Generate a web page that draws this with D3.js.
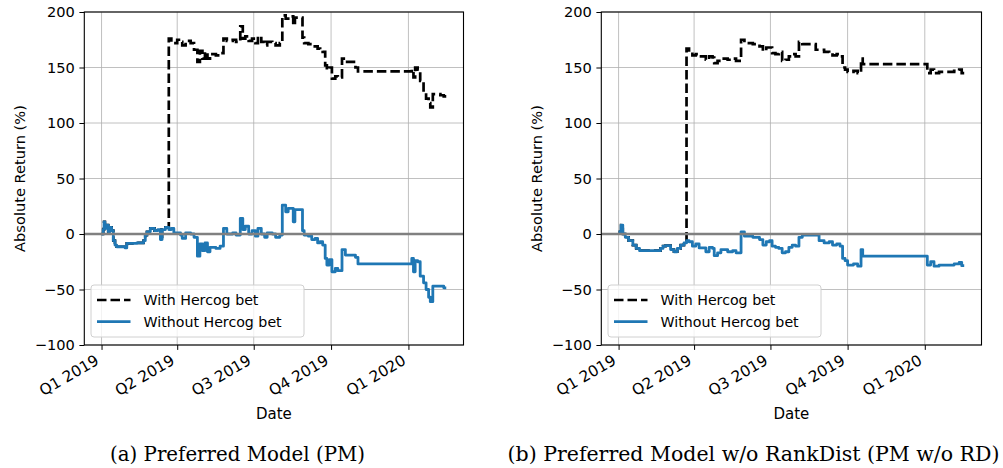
<!DOCTYPE html>
<html><head><meta charset="utf-8">
<script src="https://cdn.jsdelivr.net/npm/d3@7"></script>
<style>
body{margin:0;background:#fff}
svg{display:block}
text{font-family:"DejaVu Sans",sans-serif;fill:#000}
</style>
</head><body>
<svg id="c" width="1003" height="468"></svg>
<script>
// ---- data ----
const quarterTicks = ["2019-01-01","2019-04-01","2019-07-01","2019-10-01","2020-01-01"];
const quarterLabels = ["Q1 2019","Q2 2019","Q3 2019","Q4 2019","Q1 2020"];
const yTicks = [-100,-50,0,50,100,150,200];
const seriesNames = ["With Hercog bet","Without Hercog bet"];
const captions = ["(a) Preferred Model (PM)","(b) Preferred Model w/o RankDist (PM w/o RD)"];
const startDate = "2019-01-01"; // day 0 of the day-offset arrays

// Panel (a): days since start, absolute return (%)
const pmDays = [0,2,3,4,6,8,10,12,14,16,18,28,30,42,50,52,54,58,63,67,70,72,76,80,83,86,90,94,96,100,106,110,114,117,120,123,126,129,136,141,145,149,156,160,165,168,171,175,179,183,186,190,194,197,203,207,212,215,219,222,228,230,239,241,246,250,254,257,260,263,266,268,271,274,278,281,286,290,302,305,369,371,373,376,379,383,386,389,391,394,403,407,410];
const pmWithout = [0,4,11,5,8,2,6,3,-6,-10,-11.5,-12.5,-8.5,-8,-6,-1,2,5,3,4,-5,4,6,4,5,1,1,-1,-4,1,0,-3,-20,-9,-15,-8,-16,-12,-13,-11,5,0,1,-1,14,4,7,0,3,-2,5,0,-3,1,0,-3,-1,26,20,23,11,22,3,-1,-2,-5,-4,-8,-7,-10,-22,-28,-23,-34,-31,-33,-14,-19,-21,-27,-22,-34,-24,-25,-38,-44,-50,-57,-61,-47,-47,-48.5,-48.5];
const pmWith = [0,4,11,5,8,2,6,3,-6,-10,-11.5,-12.5,-8.5,-8,-6,-1,2,5,3,4,-5,4,6,176,173,172,175,173,170,174,172,166,155,165,158,164,158,162,161,163,176,174,175,173,187,176,178,174,176,172,178,173,170,173,172,170,172,197,194,196,188,195,177,172,171,169,169,167,166,164,152,148,150,140,142,141,158,155,150,146.5,148,141,150,148,138,127,122,118,114,126,125,124,124];

// Panel (b)
const rdDays = [0,3,5,8,12,17,21,25,50,53,56,62,66,70,74,78,81,84,88,92,96,104,108,112,114,118,122,130,136,140,146,150,160,168,172,176,180,183,187,191,195,199,203,207,211,215,219,235,239,245,251,255,260,264,267,270,273,280,285,289,291,368,372,376,382,395,400,406,409,412];
const rdWithout = [2,8,0,-3,-6,-10,-13,-15,-13,-11,-10.5,-14,-16,-13,-10,-8,-6,-7,-11,-9,-12.5,-16,-12,-13,-19.5,-17,-14,-16,-15,-17,2,-2,-3,-5,-10,-7,-6,-11,-12,-13,-17,-16,-12,-10,-11,-3,-1,-1,-6,-8,-7,-10,-9,-11,-22,-24,-28,-27,-29,-14,-20,-28,-25,-29,-28,-28,-27,-25.5,-28.5,-28.5];
const rdWith = [2,8,0,-3,-6,-10,-13,-15,-13,-11,-10.5,-14,-16,-13,-10,-8,167,164,161,162,160,157,160,159,154,156,158,157,158,156,175,172,171,169,165,168,168,163,162,164,156,157,160,162,160,173,171,166,166,164,163,161,162,160,150,148,146,147,145,158,153,145,148,145,146,146,147,148,145,145];

// ---- drawing ----
const svg = d3.select("#c");
const base = new Date(startDate + "T00:00:00Z").getTime();
const toDate = d => new Date(base + d * 864e5);
const Y0 = 12, Y1 = 345;

function panel(cfg, idx) {
  const days = cfg.days;
  const dmin = d3.min(days), dmax = d3.max(days), pad = (dmax - dmin) * 0.05;
  const x = d3.scaleUtc().domain([toDate(dmin - pad), toDate(dmax + pad)]).range([cfg.x0, cfg.x1]);
  const y = d3.scaleLinear().domain([-100, 200]).range([Y1, Y0]);
  const g = svg.append("g");
  const clipId = "clip" + idx;
  svg.append("clipPath").attr("id", clipId).append("rect")
    .attr("x", cfg.x0).attr("y", Y0).attr("width", cfg.x1 - cfg.x0).attr("height", Y1 - Y0);

  const qDates = quarterTicks.map(s => new Date(s + "T00:00:00Z"));
  // grid
  g.append("g").selectAll("line").data(qDates).join("line")
    .attr("x1", d => x(d)).attr("x2", d => x(d)).attr("y1", Y0).attr("y2", Y1)
    .attr("stroke", "#b0b0b0").attr("stroke-width", 0.8);
  g.append("g").selectAll("line").data(yTicks).join("line")
    .attr("x1", cfg.x0).attr("x2", cfg.x1).attr("y1", d => y(d)).attr("y2", d => y(d))
    .attr("stroke", "#b0b0b0").attr("stroke-width", 0.8);

  const line = vals => d3.line().curve(d3.curveStepAfter)
    .x((d, i) => x(toDate(days[i]))).y(d => y(d))(vals);
  const lg = g.append("g").attr("clip-path", `url(#${clipId})`);
  lg.append("path").attr("d", line(cfg.withB)).attr("fill", "none")
    .attr("stroke", "#000").attr("stroke-width", 2.7).attr("stroke-dasharray", "9.5,4")
    .attr("stroke-linejoin", "miter");
  lg.append("path").attr("d", line(cfg.without)).attr("fill", "none")
    .attr("stroke", "#1f77b4").attr("stroke-width", 2.8).attr("stroke-linejoin", "round");
  // zero line
  g.append("line").attr("x1", cfg.x0).attr("x2", cfg.x1).attr("y1", y(0)).attr("y2", y(0))
    .attr("stroke", "#808080").attr("stroke-width", 2.4);

  // axes
  const ax = d3.axisBottom(x).tickValues(qDates).tickFormat((d, i) => quarterLabels[i]).tickSizeOuter(0).tickSize(4.9).tickPadding(4);
  const gx = g.append("g").attr("transform", `translate(0,${Y1})`).call(ax);
  gx.select(".domain").remove();
  gx.selectAll("text").attr("font-size", 15.3).attr("font-family", "DejaVu Sans")
    .attr("text-anchor", "end").attr("dy", null).attr("y", null)
    .attr("transform", "translate(-2,18.5) rotate(-30)");
  const ay = d3.axisLeft(y).tickValues(yTicks).tickFormat(d => d < 0 ? "\u2212" + Math.abs(d) : d).tickSize(4.9).tickPadding(4.5);
  const gy = g.append("g").attr("transform", `translate(${cfg.x0},0)`).call(ay);
  gy.select(".domain").remove();
  gy.selectAll("text").attr("font-size", 14.6).attr("font-family", "DejaVu Sans");
  g.selectAll(".tick line").attr("stroke", "#000").attr("stroke-width", 1);

  g.append("rect").attr("x", cfg.x0).attr("y", Y0).attr("width", cfg.x1 - cfg.x0).attr("height", Y1 - Y0)
    .attr("fill", "none").attr("stroke", "#000").attr("stroke-width", 1.1);

  g.append("text").attr("x", (cfg.x0 + cfg.x1) / 2).attr("y", 418.5).attr("text-anchor", "middle")
    .attr("font-size", 15).text("Date");
  g.append("text").attr("transform", `translate(${cfg.x0 - 59},${(Y0 + Y1) / 2}) rotate(-90)`)
    .attr("text-anchor", "middle").attr("font-size", 14.6).text("Absolute Return (%)");

  // legend
  const lx = cfg.x0 + 6.7, ly = 285;
  g.append("rect").attr("x", lx).attr("y", ly).attr("width", 213).attr("height", 52).attr("rx", 3)
    .attr("fill", "#fff").attr("fill-opacity", 0.8).attr("stroke", "#d0d0d0").attr("stroke-width", 1);
  const items = [{n: seriesNames[0], c: "#000", dash: "9.5,4"}, {n: seriesNames[1], c: "#1f77b4", dash: null}];
  items.forEach((it, i) => {
    const cy = ly + 15 + i * 21.6;
    g.append("line").attr("x1", lx + 6).attr("x2", lx + 39.5).attr("y1", cy).attr("y2", cy)
      .attr("stroke", it.c).attr("stroke-width", 2.7).attr("stroke-dasharray", it.dash);
    g.append("text").attr("x", lx + 52.5).attr("y", cy + 5).attr("font-size", 14.2).text(it.n);
  });

  // caption, sized to match the reference width
  const cap = svg.append("text").attr("x", cfg.capX).attr("y", 461).attr("text-anchor", "middle")
    .attr("font-size", 17).style("font-family", "'DejaVu Serif', serif")
    .text(captions[idx]);
  const w = cap.node().getComputedTextLength();
  cap.attr("font-size", 17 * cfg.capW / w);
}

panel({days: pmDays, without: pmWithout, withB: pmWith, x0: 84.3, x1: 463.5, capX: 237.5, capW: 255}, 0);
panel({days: rdDays, without: rdWithout, withB: rdWith, x0: 601.3, x1: 981.5, capX: 753.5, capW: 492}, 1);
</script>
</body></html>
